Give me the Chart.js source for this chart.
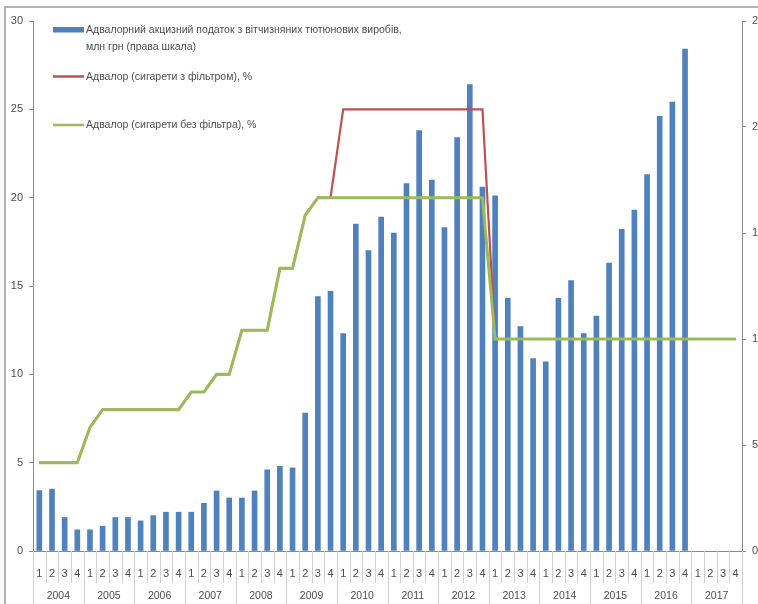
<!DOCTYPE html>
<html><head><meta charset="utf-8">
<script src="https://cdn.jsdelivr.net/npm/chart.js@4.4.0/dist/chart.umd.min.js"></script>
<style>html,body{margin:0;padding:0;background:#fff;}#wrap{position:relative;width:758px;height:604px;}</style>
</head><body><div id="wrap"><canvas id="c" width="758" height="604"></canvas></div>
<script>
// ---- data ----
const years = ['2004','2005','2006','2007','2008','2009','2010','2011','2012','2013','2014','2015','2016','2017'];
const quarters = ['1','2','3','4'];
// Advalorem excise tax, mln UAH (right scale), 2004Q1..2016Q4, 2017 empty
const taxValues = [
  285, 292, 158, 100,
  100, 117, 158, 158,
  142, 167, 183, 183,
  183, 225, 283, 250,
  250, 283, 383, 400,
  392, 650, 1200, 1225,
  1025, 1542, 1417, 1575,
  1500, 1733, 1983, 1750,
  1525, 1950, 2200, 1717,
  1675, 1192, 1058, 908,
  892, 1192, 1275, 1025,
  1108, 1358, 1517, 1608,
  1775, 2050, 2117, 2367,
  null, null, null, null
];
// Ad valorem rate, cigarettes with filter, %
const rateWithFilter = [
  5, 5, 5, 5,
  7, 8, 8, 8,
  8, 8, 8, 8,
  9, 9, 10, 10,
  12.5, 12.5, 12.5, 16,
  16, 19, 20, 20,
  25, 25, 25, 25,
  25, 25, 25, 25,
  25, 25, 25, 25,
  12, 12, 12, 12,
  12, 12, 12, 12,
  12, 12, 12, 12,
  12, 12, 12, 12,
  12, 12, 12, 12
];
// Ad valorem rate, cigarettes without filter, %
const rateWithoutFilter = [
  5, 5, 5, 5,
  7, 8, 8, 8,
  8, 8, 8, 8,
  9, 9, 10, 10,
  12.5, 12.5, 12.5, 16,
  16, 19, 20, 20,
  20, 20, 20, 20,
  20, 20, 20, 20,
  20, 20, 20, 20,
  12, 12, 12, 12,
  12, 12, 12, 12,
  12, 12, 12, 12,
  12, 12, 12, 12,
  12, 12, 12, 12
];
const legendLabels = [
  ['Адвалорний акцизний податок з вітчизняних тютюнових виробів,', 'млн грн (права шкала)'],
  ['Адвалор (сигарети з фільтром), %'],
  ['Адвалор (сигарети без фільтра), %']
];
const categories = [];
years.forEach(y => quarters.forEach(q => categories.push(q)));

const COL_BAR = '#4f81bd', COL_RED = '#c0504d', COL_GREEN = '#9bbb59';
const TXT = '#4d4d4d';
const FONT = 'Liberation Sans, Arial, sans-serif';

const overlay = {
  id: 'overlay',
  afterDraw(chart) {
    const ctx = chart.ctx, xs = chart.scales.x, ca = chart.chartArea;
    ctx.save();
    // frame
    ctx.strokeStyle = '#9a9a9a'; ctx.lineWidth = 1.5;
    ctx.beginPath(); ctx.moveTo(5, 604); ctx.lineTo(5, 7); ctx.lineTo(758, 7); ctx.stroke();
    // x separators
    const n = categories.length;
    const step = (ca.right - ca.left) / n;
    ctx.strokeStyle = '#d0d0d0'; ctx.lineWidth = 1;
    for (let i = 0; i <= n; i++) {
      const x = Math.round(ca.left + i * step) + 0.5;
      const isYear = i % 4 === 0;
      ctx.beginPath(); ctx.moveTo(x, ca.bottom); ctx.lineTo(x, isYear ? 604 : 583); ctx.stroke();
    }
    // year labels
    ctx.fillStyle = TXT; ctx.font = '10.5px ' + FONT; ctx.textAlign = 'center'; ctx.textBaseline = 'middle';
    years.forEach((y, k) => {
      const x = (xs.getPixelForValue(k * 4) + xs.getPixelForValue(k * 4 + 3)) / 2;
      ctx.fillText(y, x, 596);
    });
    // legend
    ctx.textAlign = 'left'; ctx.font = '10.5px ' + FONT;
    ctx.fillStyle = COL_BAR; ctx.fillRect(53, 27, 31, 5.5);
    ctx.fillStyle = TXT;
    ctx.fillText(legendLabels[0][0], 86, 30);
    ctx.fillText(legendLabels[0][1], 86, 47);
    ctx.strokeStyle = COL_RED; ctx.lineWidth = 2.5;
    ctx.beginPath(); ctx.moveTo(53, 76.5); ctx.lineTo(84, 76.5); ctx.stroke();
    ctx.fillText(legendLabels[1][0], 86, 77);
    ctx.strokeStyle = COL_GREEN; ctx.lineWidth = 2.5;
    ctx.beginPath(); ctx.moveTo(53, 125); ctx.lineTo(84, 125); ctx.stroke();
    ctx.fillText(legendLabels[2][0], 86, 125);
    ctx.restore();
  }
};

new Chart(document.getElementById('c'), {
  data: {
    labels: categories,
    datasets: [
      { type: 'line', label: legendLabels[2][0], data: rateWithoutFilter, yAxisID: 'y', borderColor: COL_GREEN, borderWidth: 3, pointRadius: 0, tension: 0, order: 0 },
      { type: 'line', label: legendLabels[1][0], data: rateWithFilter, yAxisID: 'y', borderColor: COL_RED, borderWidth: 2.2, pointRadius: 0, tension: 0, order: 1 },
      { type: 'bar', label: legendLabels[0].join(' '), data: taxValues, yAxisID: 'y1', backgroundColor: COL_BAR, barThickness: 5, order: 2 }
    ]
  },
  options: {
    responsive: false, animation: false, devicePixelRatio: 1,
    layout: { padding: { top: 21, left: 0, right: 0, bottom: 0 } },
    plugins: { legend: { display: false }, tooltip: { enabled: false } },
    scales: {
      x: {
        grid: { display: false },
        border: { display: true, color: '#8a8a8a', width: 1 },
        ticks: { autoSkip: false, maxRotation: 0, minRotation: 0, padding: 8, color: TXT, font: { family: FONT, size: 11 } },
        afterFit: s => { s.height = 53; }
      },
      y: {
        position: 'left', min: 0, max: 30,
        grid: { drawOnChartArea: false, drawTicks: true, tickLength: 4, color: '#8a8a8a' },
        border: { display: true, color: '#8a8a8a', width: 1 },
        ticks: { stepSize: 5, padding: 6, color: TXT, font: { family: FONT, size: 11 } },
        afterFit: s => { s.width = 33; }
      },
      y1: {
        position: 'right', min: 0, max: 2500,
        grid: { drawOnChartArea: false, drawTicks: true, tickLength: 4, color: '#8a8a8a' },
        border: { display: true, color: '#8a8a8a', width: 1 },
        ticks: { stepSize: 500, padding: 6, color: TXT, font: { family: FONT, size: 11 }, callback: v => String(v) },
        afterFit: s => { s.width = 16; }
      }
    }
  },
  plugins: [overlay]
});
</script></body></html>
